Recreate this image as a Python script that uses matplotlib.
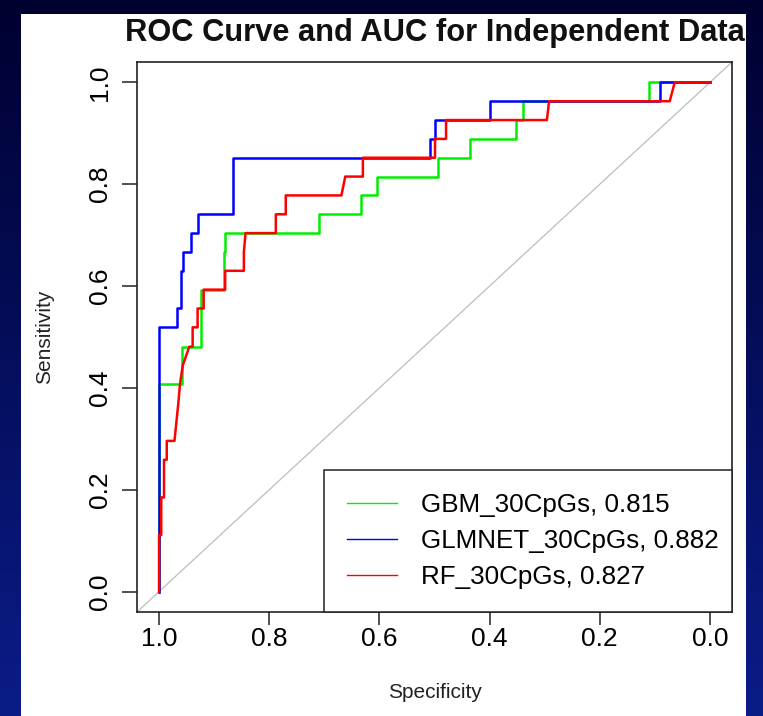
import numpy as np
import matplotlib
matplotlib.use("Agg")
from matplotlib import pyplot as plt
from matplotlib.patches import Rectangle
from matplotlib.lines import Line2D

plt.rcParams['font.family'] = ['Liberation Sans', 'DejaVu Sans']

# ROC points (specificity, sensitivity) for each model
gbm_spec = [1.0, 1.0, 0.959, 0.959, 0.924, 0.924, 0.882, 0.882, 0.880, 0.880,
            0.710, 0.710, 0.634, 0.634, 0.604, 0.604, 0.493, 0.493, 0.435, 0.435,
            0.352, 0.352, 0.339, 0.339, 0.110, 0.110, 0.0]
gbm_sens = [0.0, 0.407, 0.407, 0.481, 0.481, 0.593, 0.593, 0.667, 0.667, 0.704,
            0.704, 0.741, 0.741, 0.778, 0.778, 0.815, 0.815, 0.852, 0.852, 0.889,
            0.889, 0.926, 0.926, 0.963, 0.963, 1.0, 1.0]

glmnet_spec = [1.0, 1.0, 0.967, 0.967, 0.961, 0.961, 0.957, 0.957, 0.942, 0.942,
               0.930, 0.930, 0.865, 0.865, 0.508, 0.508, 0.499, 0.499, 0.399, 0.399,
               0.091, 0.091, 0.0]
glmnet_sens = [0.0, 0.519, 0.519, 0.556, 0.556, 0.630, 0.630, 0.667, 0.667, 0.704,
               0.704, 0.741, 0.741, 0.852, 0.852, 0.889, 0.889, 0.926, 0.926, 0.963,
               0.963, 1.0, 1.0]

rf_spec = [1.0, 1.0, 0.996, 0.996, 0.991, 0.991, 0.986, 0.986, 0.972, 0.965,
           0.962, 0.957, 0.945, 0.939, 0.939, 0.930, 0.930, 0.919, 0.919, 0.880,
           0.880, 0.846, 0.846, 0.843, 0.788, 0.788, 0.770, 0.770, 0.669, 0.662,
           0.630, 0.630, 0.499, 0.499, 0.479, 0.479, 0.296, 0.292, 0.073, 0.064, 0.0]
rf_sens = [0.0, 0.111, 0.111, 0.185, 0.185, 0.259, 0.259, 0.296, 0.296, 0.370,
           0.407, 0.444, 0.481, 0.481, 0.519, 0.519, 0.556, 0.556, 0.593, 0.593,
           0.630, 0.630, 0.667, 0.704, 0.704, 0.741, 0.741, 0.778, 0.778, 0.815,
           0.815, 0.852, 0.852, 0.889, 0.889, 0.926, 0.926, 0.963, 0.963, 1.0, 1.0]

models = ['GBM_30CpGs', 'GLMNET_30CpGs', 'RF_30CpGs']
aucs = [0.815, 0.882, 0.827]
colores = ['#00ee00', '#0000ff', '#ff0000']
ticks = [1.0, 0.8, 0.6, 0.4, 0.2, 0.0]

W, H = 763, 716
fig = plt.figure(figsize=(W / 100, H / 100), dpi=100)

# fondo azul degradado
bg = fig.add_axes([0, 0, 1, 1], zorder=-10)
grad = np.linspace(0, 1, 256).reshape(-1, 1)
cmap = matplotlib.colors.LinearSegmentedColormap.from_list('fondo', ['#000030', '#0a1c88'])
bg.imshow(grad, aspect='auto', cmap=cmap, extent=[0, 1, 0, 1], origin='upper')
bg.axis('off')

# panel blanco
fig.add_artist(Rectangle((21 / W, 0), (746 - 21) / W, (H - 14) / H,
                         transform=fig.transFigure, facecolor='white',
                         edgecolor='none', zorder=-5))

ax = fig.add_axes([137 / W, (H - 612) / H, (732 - 137) / W, (612 - 62) / H])
ax.set_facecolor('white')

# diagonal de referencia
ax.plot([1.04, -0.04], [-0.04, 1.04], color='#bdbdbd', lw=0.9, zorder=1)

curvas = [(gbm_spec, gbm_sens), (glmnet_spec, glmnet_sens), (rf_spec, rf_sens)]
for (sp, se), c in zip(curvas, colores):
    ax.plot(sp, se, color=c, lw=1.8, zorder=2)

ax.set_xlim(1.04, -0.04)
ax.set_ylim(-0.04, 1.04)
ax.set_xticks(ticks)
ax.set_xticklabels([f"{t:.1f}" for t in ticks])
ax.set_yticks(ticks)
ax.set_yticklabels([f"{t:.1f}" for t in ticks], rotation=90, va='center')
ax.tick_params(direction='out', width=1.1, labelsize=19, color='#222222')
ax.tick_params(axis='x', length=9, pad=2)
ax.tick_params(axis='y', length=11, pad=7)
for s in ax.spines.values():
    s.set_linewidth(1.2)
    s.set_color('#222222')

fig.text(435 / W, (H - 33) / H, 'ROC Curve and AUC for Independent Data',
         ha='center', va='center', fontsize=22.2, fontweight='bold', color='#111111')
fig.text(435 / W, (H - 693) / H, 'Specificity', ha='center', va='center',
         fontsize=15, color='#222222')
fig.text(45 / W, (H - 337) / H, 'Sensitivity', ha='center', va='center',
         rotation=90, fontsize=15, color='#222222')

handles = [Line2D([0], [0], color=c, lw=1.0) for c in colores]
labels = [f"{m}, {a:.3f}" for m, a in zip(models, aucs)]
leg = ax.legend(handles, labels, loc='lower left',
                bbox_to_anchor=(0.314, 0.0, 0.686, 0.2564), mode='expand',
                borderaxespad=0, fontsize=18.7, frameon=True, fancybox=False,
                framealpha=1, edgecolor='#222222', handlelength=1.9,
                handletextpad=0.95, borderpad=0.9, labelspacing=0.45)
leg.get_frame().set_linewidth(1.1)

fig.savefig('out.png', dpi=100)
